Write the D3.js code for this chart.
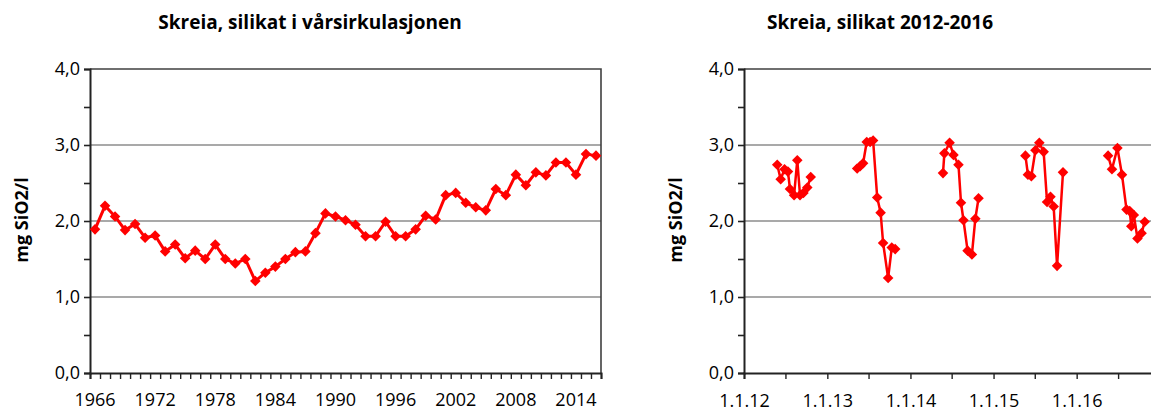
<!DOCTYPE html>
<html>
<head>
<meta charset="utf-8">
<script src="https://cdn.jsdelivr.net/npm/d3@7"></script>
<style>
  html, body { margin: 0; padding: 0; background: #fff; }
  svg text { font-family: "Open Sans", "Noto Sans", sans-serif; fill: #000; }
</style>
</head>
<body>
<div id="chart"></div>
<script>
"use strict";

/* ── Data: spring circulation 1966–2016 ── */
const springYears = d3.range(1966, 2017);
const springValues = [
  1.89, 2.20, 2.06, 1.88, 1.96, 1.78, 1.81, 1.60, 1.69, 1.51,
  1.61, 1.50, 1.69, 1.50, 1.44, 1.50, 1.21, 1.32, 1.40, 1.50,
  1.59, 1.60, 1.84, 2.10, 2.06, 2.01, 1.95, 1.80, 1.80, 1.99,
  1.80, 1.80, 1.89, 2.07, 2.02, 2.34, 2.37, 2.24, 2.18, 2.14,
  2.42, 2.34, 2.61, 2.47, 2.64, 2.60, 2.77, 2.77, 2.61, 2.88,
  2.86
];
const springLabelYears = [1966, 1972, 1978, 1984, 1990, 1996, 2002, 2008, 2014];

/* ── Data: samples 2012–2016 ── */
const sampleDates = [
  "2012-05-26", "2012-06-10", "2012-06-27", "2012-07-12", "2012-07-21", "2012-08-08",
  "2012-08-22", "2012-09-03", "2012-09-18", "2012-10-05", "2012-10-20",
  "2013-05-12", "2013-05-25", "2013-06-07", "2013-06-23", "2013-07-08", "2013-07-21",
  "2013-08-08", "2013-08-23", "2013-09-03", "2013-09-25", "2013-10-11", "2013-10-26",
  "2014-05-24", "2014-05-30", "2014-06-22", "2014-07-09", "2014-07-31", "2014-08-11",
  "2014-08-22", "2014-09-09", "2014-09-28", "2014-10-13", "2014-10-27",
  "2015-05-21", "2015-06-01", "2015-06-16", "2015-07-04", "2015-07-21", "2015-08-09",
  "2015-08-24", "2015-09-08", "2015-09-22", "2015-10-07", "2015-11-02",
  "2016-05-18", "2016-06-04", "2016-06-28", "2016-07-18", "2016-08-07", "2016-08-21",
  "2016-08-28", "2016-09-08", "2016-09-24", "2016-10-12", "2016-10-26"
];
const sampleValues = [
  2.74, 2.55, 2.68, 2.65, 2.42, 2.34, 2.80, 2.34, 2.37, 2.44, 2.58,
  2.69, 2.72, 2.76, 3.04, 3.04, 3.06, 2.31, 2.11, 1.71, 1.25, 1.65, 1.63,
  2.63, 2.89, 3.03, 2.87, 2.74, 2.24, 2.01, 1.61, 1.56, 2.03, 2.30,
  2.86, 2.61, 2.59, 2.93, 3.03, 2.91, 2.25, 2.32, 2.19, 1.41, 2.64,
  2.86, 2.68, 2.96, 2.61, 2.15, 2.13, 1.93, 2.08, 1.77, 1.84, 1.99
];
const yTickValues = d3.range(0, 4.01, 0.5);

const W = 1151, H = 412;
const RED = "#ff0000";
const fmtComma = d => d3.format(".1f")(d).replace(".", ",");

const svg = d3.select("#chart").append("svg")
  .attr("width", W).attr("height", H);

/* ── Shared helpers ── */
function drawFrame(g, y, width, height, title, titleX) {
  /* gridlines */
  g.append("g")
    .selectAll("line")
    .data([1, 2, 3])
    .join("line")
    .attr("x1", 0).attr("x2", width)
    .attr("y1", d => y(d)).attr("y2", d => y(d))
    .attr("stroke", "#8c8c8c").attr("stroke-width", 1.6);

  /* top + right border */
  g.append("path")
    .attr("d", `M0,0H${width}V${height}`)
    .attr("fill", "none").attr("stroke", "#404040").attr("stroke-width", 1.6);

  /* y axis */
  g.append("g")
    .call(d3.axisLeft(y).tickValues(yTickValues).tickSize(6).tickPadding(4)
      .tickFormat(d => d % 1 === 0 ? fmtComma(d) : ""))
    .call(a => {
      a.select(".domain").attr("stroke", "#222").attr("stroke-width", 2);
      a.selectAll(".tick line").attr("stroke", "#222").attr("stroke-width", 1.6);
      a.selectAll(".tick text").attr("font-size", "18px").attr("fill", "#000");
    });

  /* y label */
  g.append("text")
    .attr("transform", "rotate(-90)")
    .attr("x", -height / 2 + 1).attr("y", -62)
    .attr("text-anchor", "middle")
    .attr("font-size", "18px").attr("font-weight", "bold")
    .text("mg SiO2/l");

  /* title */
  g.append("text")
    .attr("x", titleX).attr("y", -40)
    .attr("text-anchor", "middle")
    .attr("font-size", "19px").attr("font-weight", "bold")
    .text(title);
}

function drawMarkers(g, pts, xf, yf) {
  const diamond = d3.symbol().type(d3.symbolSquare).size(56);
  g.selectAll(null)
    .data(pts)
    .join("path")
    .attr("d", diamond)
    .attr("transform", d => `translate(${xf(d)},${yf(d)}) rotate(45)`)
    .attr("fill", RED);
}

/* ── Left chart: spring circulation ── */
{
  const m = { left: 90, top: 69 };
  const width = 511, height = 304;
  const g = svg.append("g").attr("transform", `translate(${m.left},${m.top})`);

  const x = d3.scaleBand().domain(springYears).range([0, width]).padding(0);
  const xEdge = d3.scaleLinear().domain([0, springYears.length]).range([0, width]);
  const y = d3.scaleLinear().domain([0, 4]).range([height, 0]);

  drawFrame(g, y, width, height, "Skreia, silikat i vårsirkulasjonen", 220);

  /* x axis: tick marks between categories */
  g.append("g")
    .attr("transform", `translate(0,${height})`)
    .call(d3.axisBottom(xEdge).tickValues(d3.range(0, springYears.length + 1))
      .tickSize(6).tickFormat(""))
    .call(a => {
      a.select(".domain").attr("stroke", "#222").attr("stroke-width", 2);
      a.selectAll(".tick line").attr("stroke", "#222").attr("stroke-width", 1.4);
    });

  g.append("g")
    .attr("transform", `translate(0,${height})`)
    .call(d3.axisBottom(x).tickValues(springLabelYears).tickSize(0).tickPadding(20))
    .call(a => {
      a.select(".domain").remove();
      a.selectAll(".tick text").attr("font-size", "18px").attr("fill", "#000");
    });

  const pts = springYears.map((yr, i) => ({ yr, v: springValues[i] }));
  const xf = d => x(d.yr) + x.bandwidth() / 2;
  const yf = d => y(d.v);

  g.append("path")
    .datum(pts)
    .attr("d", d3.line().x(xf).y(yf))
    .attr("fill", "none").attr("stroke", RED).attr("stroke-width", 3)
    .attr("stroke-linejoin", "round");

  drawMarkers(g, pts, xf, yf);
}

/* ── Right chart: 2012–2016 ── */
{
  const m = { left: 744, top: 69 };
  const width = 416, height = 304;
  const g = svg.append("g").attr("transform", `translate(${m.left},${m.top})`);

  const parse = d3.timeParse("%Y-%m-%d");
  const x = d3.scaleTime()
    .domain([new Date(2012, 0, 1), new Date(2017, 0, 1)])
    .range([0, width]);
  const y = d3.scaleLinear().domain([0, 4]).range([height, 0]);

  drawFrame(g, y, width, height, "Skreia, silikat 2012-2016", 136);

  const fmtDate = d3.timeFormat("%-d.%-m.%y");
  const xTicks = d3.timeMonth.every(6).range(new Date(2012, 0, 1), new Date(2017, 0, 1));
  g.append("g")
    .attr("transform", `translate(0,${height})`)
    .call(d3.axisBottom(x).tickValues(xTicks).tickSize(6).tickPadding(15)
      .tickFormat(d => d.getMonth() === 0 ? fmtDate(d) : ""))
    .call(a => {
      a.select(".domain").attr("stroke", "#222").attr("stroke-width", 2);
      a.selectAll(".tick line").attr("stroke", "#222").attr("stroke-width", 1.4);
      a.selectAll(".tick text").attr("font-size", "18px").attr("fill", "#000");
    });

  const pts = sampleDates.map((s, i) => ({ date: parse(s), v: sampleValues[i] }));
  const seasons = d3.groups(pts, d => d.date.getFullYear());
  const xf = d => x(d.date);
  const yf = d => y(d.v);

  g.selectAll(".season")
    .data(seasons)
    .join("path")
    .attr("class", "season")
    .attr("d", d => d3.line().x(xf).y(yf)(d[1]))
    .attr("fill", "none").attr("stroke", RED).attr("stroke-width", 2.5)
    .attr("stroke-linejoin", "round");

  drawMarkers(g, pts, xf, yf);
}
</script>
</body>
</html>
